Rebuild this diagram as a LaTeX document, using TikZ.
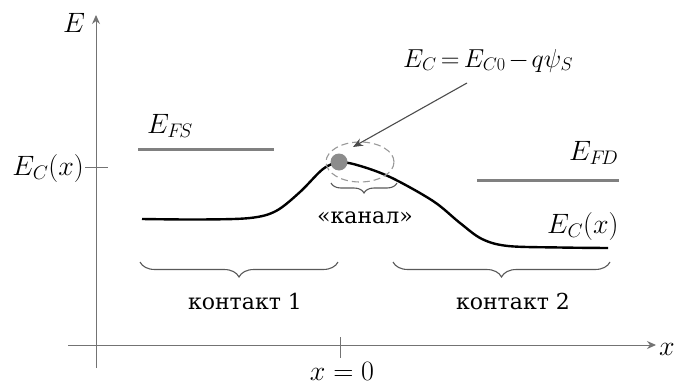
\RequirePackage{fix-cm}
\documentclass[tikz,border=0pt]{standalone}
\usepackage{fontspec}
\setmainfont{DejaVu Serif}
\usetikzlibrary{decorations.pathreplacing,arrows.meta,shapes.geometric}
\begin{document}
\begin{tikzpicture}[x=1pt,y=-1pt,
  axis/.style={draw=black!55,line width=1pt},
  level/.style={draw=black!50,line width=3pt},
  curve/.style={draw=black,line width=2.4pt},
  brace/.style={draw=black!65,line width=1.1pt,decorate,decoration={brace,amplitude=10pt}},
  mlabel/.style={inner sep=0pt,font=\fontsize{28}{32}\selectfont},
  tlabel/.style={inner sep=0pt,font=\fontsize{22}{26}\selectfont}]
\useasboundingbox (0,0) rectangle (684,388);
% axes
\coordinate (ybot) at (96,368);
\coordinate (ytop) at (96,15);
\coordinate (xl) at (68,345);
\coordinate (xr) at (656,345);
\draw[axis,-{Stealth[length=9pt,width=8pt]}] (ybot) -- (ytop);
\draw[axis,-{Stealth[length=9pt,width=8pt]}] (xl) -- (xr);
\node[mlabel,anchor=base west] (Elab) at (63,32) {$E$};
\node[mlabel,anchor=base west] (xlab) at (659,355) {$x$};
% ticks
\coordinate (t1a) at (85,167);
\coordinate (t1b) at (108,167);
\draw[axis] (t1a) -- (t1b);
\node[mlabel,anchor=base east] (ECx) at (84,175) {$E_C(x)$};
\coordinate (t2a) at (340,337);
\coordinate (t2b) at (340,358);
\draw[axis] (t2a) -- (t2b);
\node[mlabel,anchor=base] (x0) at (342,380) {$x = 0$};
% Fermi levels
\coordinate (fs1) at (138,149);
\coordinate (fs2) at (274,149);
\draw[level] (fs1) -- (fs2);
\node[mlabel,anchor=base west] (EFS) at (147,133) {$E_{F\!S}$};
\coordinate (fd1) at (477,180);
\coordinate (fd2) at (619,180);
\draw[level] (fd1) -- (fd2);
\node[mlabel,anchor=base west] (EFD) at (569,160) {$E_{F\!D}$};
% band curve
\draw[curve] plot[smooth,tension=0.55] coordinates {(142,219) (200,219.5) (250,218) (276,211) (300,192) (323,169) (339,162.5) (357,165) (390,177) (433,201) (460,223) (482,239) (508,246) (560,247.5) (608,248)};
\node[mlabel,anchor=base west] (ECx2) at (547,233) {$E_C(x)$};
% dot and ellipse
\node[circle,fill=black!45,minimum size=17pt,inner sep=0pt] (dot) at (339,162) {};
\node[draw=black!40,dash pattern=on 7pt off 4pt,line width=1.1pt,ellipse,minimum width=68pt,minimum height=40pt,inner sep=0pt] (ell) at (360,162) {};
% formula and arrow
\node[inner sep=0pt,font=\fontsize{26}{30}\selectfont,anchor=base west] (form) at (403,67) {$\thickmuskip=3mu\medmuskip=2mu E_C = E_{C0} - q\psi_S$};
\coordinate (arrs) at (467,83);
\coordinate (arre) at (353,147);
\draw[draw=black!70,line width=1.1pt,-{Stealth[length=10pt,width=8pt]}] (arrs) -- (arre);
% braces
\coordinate (kb1) at (397,183);
\coordinate (kb2) at (331,183);
\draw[brace,decoration={amplitude=10pt}] (kb1) -- (kb2);
\node[tlabel,anchor=base] (kanal) at (365,223) {«канал»};
\coordinate (b1a) at (338,262);
\coordinate (b1b) at (140,262);
\draw[brace,decoration={amplitude=15pt}] (b1a) -- (b1b);
\node[tlabel,anchor=base] (k1) at (245,309) {контакт 1};
\coordinate (b2a) at (610,262);
\coordinate (b2b) at (393,262);
\draw[brace,decoration={amplitude=15pt}] (b2a) -- (b2b);
\node[tlabel,anchor=base] (k2) at (513,309) {контакт 2};
\end{tikzpicture}
\end{document}
